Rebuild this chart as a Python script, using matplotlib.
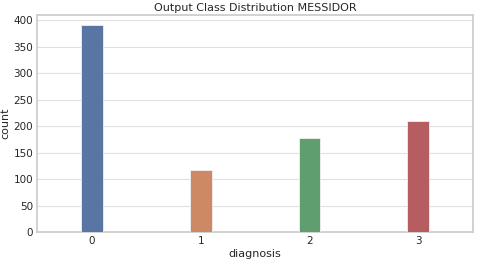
import matplotlib
matplotlib.use("Agg")
import matplotlib.pyplot as plt
import seaborn as sns

# class counts per diagnosis grade
diagnosis = ["0", "1", "2", "3"]
counts = [391, 117, 178, 210]
palette = ["#4C72B0", "#DD8452", "#55A868", "#C44E52"]

sns.set_theme(style="whitegrid")
plt.rcParams['font.family'] = ['DejaVu Sans']

colors = [sns.desaturate(c, 0.75) for c in palette]

fig, ax = plt.subplots(figsize=(4.8, 2.63), dpi=100)
ax.bar(range(len(diagnosis)), counts, width=0.2, color=colors,
       edgecolor="#f0f0f0", linewidth=0.6, zorder=3)
ax.set_xticks(range(len(diagnosis)))
ax.set_xticklabels(diagnosis)
ax.set_xlim(-0.5, 3.5)
ax.set_ylim(0, 410)
ax.set_yticks(range(0, 401, 50))
ax.tick_params(labelsize=7.5, pad=3, length=0)
ax.set_xlabel("diagnosis", fontsize=8, labelpad=2)
ax.set_ylabel("count", fontsize=8, labelpad=2)
ax.set_title("Output Class Distribution MESSIDOR", fontsize=8, pad=3)
for s in ax.spines.values():
    s.set_color("#cccccc")
ax.xaxis.grid(False)
ax.yaxis.grid(True, color="#e0e0e0", linewidth=0.8)

fig.subplots_adjust(left=0.078, right=0.985, top=0.943, bottom=0.118)
plt.savefig("out.png", dpi=100)
